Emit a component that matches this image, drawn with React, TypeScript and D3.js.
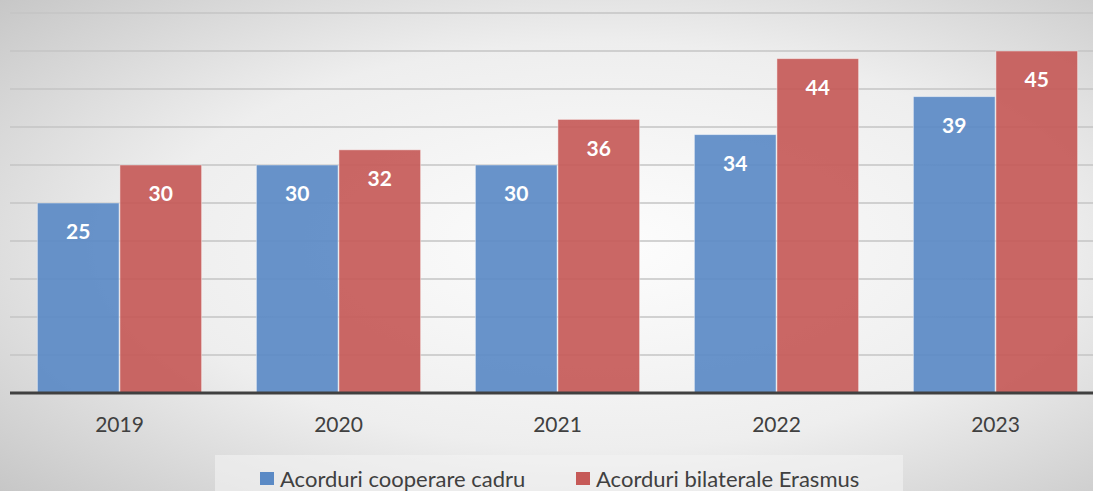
import { useMemo } from "react";
import * as d3 from "d3";

const years = ["2019", "2020", "2021", "2022", "2023"];
const seriesNames = ["Acorduri cooperare cadru", "Acorduri bilaterale Erasmus"];
const cooperare = [25, 30, 30, 34, 39];
const erasmus = [30, 32, 36, 44, 45];
const yTicks = [0, 5, 10, 15, 20, 25, 30, 35, 40, 45, 50];

const colors = ["#5b8ac5", "#c65a58"];
const font = "Lato, 'Open Sans', sans-serif";

const width = 1093;
const height = 491;

export default function App() {
  const x = useMemo(
    () => d3.scaleBand().domain(years).range([10, 1105]).paddingInner(0.25).paddingOuter(0.125),
    []
  );
  const y = useMemo(() => d3.scaleLinear().domain([0, 50]).range([393, 13]), []);
  const sub = useMemo(
    () => d3.scaleBand().domain(["0", "1"]).range([0, x.bandwidth()]).paddingInner(0.01),
    [x]
  );
  const series = [cooperare, erasmus];

  return (
    <svg
      width={width}
      height={height}
      style={{ position: "absolute", left: 0, top: 0, display: "block" }}
    >
      <defs>
        <radialGradient id="bg" cx="0.55" cy="0.5" r="0.75" fx="0.55" fy="0.5">
          <stop offset="0" stopColor="#fdfdfd" />
          <stop offset="0.55" stopColor="#eeeeee" />
          <stop offset="1" stopColor="#c6c6c6" />
        </radialGradient>
      </defs>
      <rect width={width} height={height} fill="url(#bg)" />

      {yTicks.slice(1).map((t) => (
        <line key={t} x1={10} x2={width} y1={y(t)} y2={y(t)} stroke="#c4c4c4" strokeWidth={1.5} />
      ))}

      {years.map((yr, i) => (
        <g key={yr} transform={`translate(${x(yr)},0)`}>
          {series.map((s, k) => (
            <g key={k}>
              <rect
                x={sub(String(k))}
                y={y(s[i])}
                width={sub.bandwidth()}
                height={y(0) - y(s[i])}
                fill={colors[k]}
                fillOpacity={0.92}
                stroke="#ffffff"
                strokeOpacity={0.45}
                strokeWidth={1}
              />
              <text
                x={(sub(String(k)) ?? 0) + sub.bandwidth() / 2}
                y={y(s[i]) + 29}
                dy="0.35em"
                textAnchor="middle"
                fill="#ffffff"
                fontFamily={font}
                fontWeight="bold"
                fontSize={21}
              >
                {s[i]}
              </text>
            </g>
          ))}
          <text
            x={x.bandwidth() / 2}
            y={425}
            dy="0.35em"
            textAnchor="middle"
            fill="#404040"
            fontFamily={font}
            fontSize={21}
          >
            {yr}
          </text>
        </g>
      ))}

      <line x1={10} x2={width} y1={y(0)} y2={y(0)} stroke="#404040" strokeWidth={3} />

      <rect x={215} y={455} width={688} height={40} fill="#f4f4f4" fillOpacity={0.6} />
      {seriesNames.map((name, k) => {
        const lx = k === 0 ? 260 : 576;
        return (
          <g key={name}>
            <rect x={lx} y={472} width={14} height={13} fill={colors[k]} />
            <text
              x={lx + 20}
              y={479}
              dy="0.35em"
              fill="#404040"
              fontFamily={font}
              fontSize={22}
            >
              {name}
            </text>
          </g>
        );
      })}
    </svg>
  );
}
